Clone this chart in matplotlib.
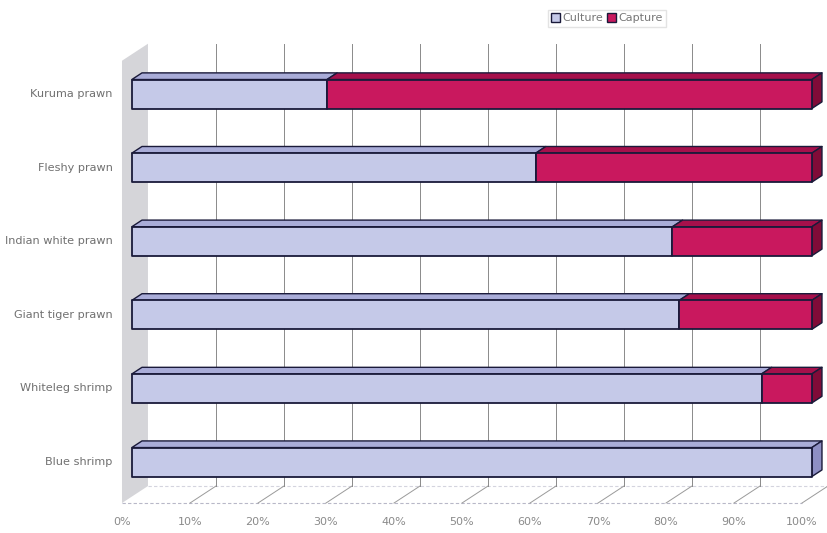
import matplotlib.pyplot as plt
from matplotlib.patches import Patch

# data (bottom to top)
categories = ["Blue shrimp", "Whiteleg shrimp", "Giant tiger prawn",
              "Indian white prawn", "Fleshy prawn", "Kuruma prawn"]
culture = [100, 92.6, 80.5, 79.5, 59.4, 28.7]
capture = [0, 7.4, 19.5, 20.5, 40.6, 71.3]
ticks = [0, 10, 20, 30, 40, 50, 60, 70, 80, 90, 100]

# fake 3d: screen = world + z * (DX, DY), z in 0..1
DX, DY = 3.82, 0.231
Z0, Z1 = 0.38, 0.77
HALF = 0.197
FLOOR = -0.469
TOP = 5.54

cult_cols = ("#c5c9e8", "#a9acd8", "#8e8fc4")
capt_cols = ("#c9185e", "#a6104b", "#800b38")
edge = "#1a1a3a"


def proj(x, y, z):
    return x + z * DX, y + z * DY


def face(ax, pts, color, lw=1.0, ec=edge, zorder=3):
    xs = [p[0] for p in pts]
    ys = [p[1] for p in pts]
    ax.fill(xs, ys, facecolor=color, edgecolor=ec, linewidth=lw, zorder=zorder,
            joinstyle="round")


def box(ax, x0, x1, yc, cols, side=True):
    y0, y1 = yc - HALF, yc + HALF
    front = [proj(x0, y0, Z0), proj(x1, y0, Z0), proj(x1, y1, Z0), proj(x0, y1, Z0)]
    top = [proj(x0, y1, Z0), proj(x1, y1, Z0), proj(x1, y1, Z1), proj(x0, y1, Z1)]
    face(ax, top, cols[1])
    if side:
        right = [proj(x1, y0, Z0), proj(x1, y0, Z1), proj(x1, y1, Z1), proj(x1, y1, Z0)]
        face(ax, right, cols[2])
    face(ax, front, cols[0], lw=1.3)


fig = plt.figure(figsize=(8.27, 5.33), dpi=100)
ax = fig.add_axes([0, 0, 1, 1])
ax.set_xlim(-17.94, 103.68)
ax.set_ylim(-0.876, 6.365)
ax.axis("off")

# left wall
wall = [proj(0, FLOOR, 0), proj(0, FLOOR, 1), proj(0, TOP, 1), proj(0, TOP, 0)]
face(ax, wall, "#d5d5d9", lw=0, ec="none", zorder=1)

# floor edges
fx0, fy0 = proj(0, FLOOR, 0)
fx1, fy1 = proj(100, FLOOR, 0)
ax.plot([fx0, fx1], [fy0, fy1], color="#b8b8c8", lw=0.8, ls=(0, (3, 2)), zorder=1)
bx0, by0 = proj(0, FLOOR, 1)
bx1, by1 = proj(100, FLOOR, 1)
ax.plot([bx0, bx1], [by0, by1], color="#d4d4de", lw=0.8, ls=(0, (3, 2)), zorder=1)

# gridlines: floor diagonals and back wall verticals
for t in ticks[1:]:
    ax.plot(*zip(proj(t, FLOOR, 0), proj(t, FLOOR, 1)), color="#9a9a9a", lw=0.7, zorder=1)
    ax.plot(*zip(proj(t, FLOOR, 1), proj(t, TOP, 1)), color="#8a8a8a", lw=0.7, zorder=1)

# bars
for i, cat in enumerate(categories):
    box(ax, 0, culture[i], i, cult_cols, side=capture[i] == 0)
    if capture[i] > 0:
        box(ax, culture[i], culture[i] + capture[i], i, capt_cols)
    lx, ly = proj(0, i, Z0)
    ax.text(lx - 2.8, ly, cat, ha="right", va="center", fontsize=8.1, color="#707070")

# x tick labels
for t in ticks:
    ax.text(t, -0.73, f"{t}%", ha="center", va="center", fontsize=8, color="#8a8a8a")

handles = [Patch(facecolor=cult_cols[0], edgecolor=edge, label="Culture"),
           Patch(facecolor=capt_cols[0], edgecolor=edge, label="Capture")]
fig.legend(handles=handles, loc="center", bbox_to_anchor=(0.734, 0.966), ncol=2,
           fontsize=8, frameon=True, edgecolor="#dddddd", fancybox=False,
           handlelength=0.8, handleheight=0.8, handletextpad=0.2, columnspacing=0.4,
           borderpad=0.3, labelcolor="#777777")

fig.savefig("out.png", dpi=100)
